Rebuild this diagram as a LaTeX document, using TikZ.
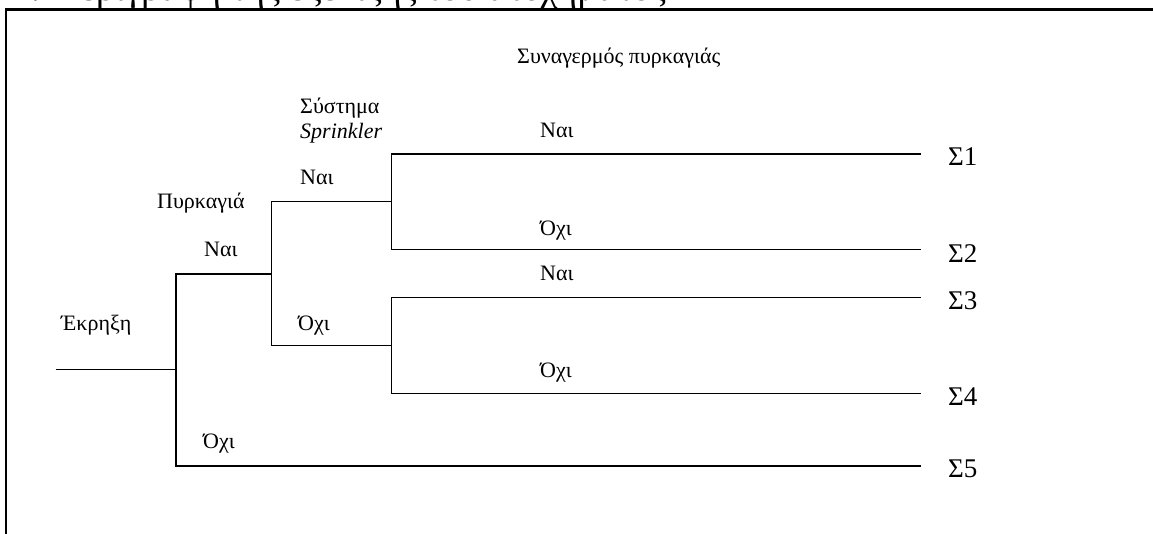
\documentclass[tikz,border=0pt]{standalone}
\usepackage{fontspec}
\setmainfont{Liberation Serif}
\begin{document}
\begin{tikzpicture}[x=1pt,y=-1pt,
  branch/.style={line width=1.5pt, line join=miter},
  frame/.style={line width=2.2pt},
  lbl/.style={anchor=base west, inner sep=0pt, font=\fontsize{22}{26}\selectfont},
  sig/.style={anchor=base west, inner sep=0pt, font=\fontsize{27}{32}\selectfont},
  headf/.style={anchor=base west, inner sep=0pt, font=\fontsize{37.5}{40}\selectfont}]
\useasboundingbox (0,0) rectangle (1153,533);
\begin{scope}
\clip (0,0) rectangle (1153,533);
\draw[frame] (6,600) -- (6,9.5) -- (1200,9.5);
\node[headf] (hnum) at (12,0.6) {4.};
\node[headf] (htxt) at (53,0.6) {Περιγραφή της εξέλιξης του ατυχήματος};
\end{scope}
% junction coordinates
\coordinate (r0) at (55.5,369.7);
\coordinate (f) at (176,369.7);
\coordinate (fT) at (176,274);
\coordinate (fB) at (176,466);
\coordinate (s) at (271.7,274);
\coordinate (sT) at (271.7,201.7);
\coordinate (sB) at (271.7,345.7);
\coordinate (a1) at (391.7,201.7);
\coordinate (a1T) at (391.7,154);
\coordinate (a1B) at (391.7,249.3);
\coordinate (a2) at (391.7,345.7);
\coordinate (a2T) at (391.7,297.7);
\coordinate (a2B) at (391.7,393.3);
\coordinate (e1) at (920.7,154);
\coordinate (e2) at (920.7,249.3);
\coordinate (e3) at (920.7,297.7);
\coordinate (e4) at (920.7,393.3);
\coordinate (e5) at (920.7,466);
% tree
\draw[branch] (r0) -- (f);
\draw[branch] (s) -- (fT) -- (fB) -- (e5);
\draw[branch] (a1) -- (sT) -- (sB) -- (a2);
\draw[branch] (e1) -- (a1T) -- (a1B) -- (e2);
\draw[branch] (e3) -- (a2T) -- (a2B) -- (e4);
% headings
\node[lbl] (alarm) at (517,63) {Συναγερμός πυρκαγιάς};
\node[lbl] (sys) at (300,113) {Σύστημα};
\node[lbl] (spr) at (300,138) {\textit{Sprinkler}};
\node[lbl] (fire) at (157,208) {Πυρκαγιά};
\node[lbl] (expl) at (61,330) {Έκρηξη};
% branch labels
\node[lbl] (syes) at (300,184) {Ναι};
\node[lbl] (fyes) at (204,256) {Ναι};
\node[lbl] (sno) at (298,330) {Όχι};
\node[lbl] (fno) at (203,448) {Όχι};
\node[lbl] (ay1) at (540,137) {Ναι};
\node[lbl] (an1) at (540,235) {Όχι};
\node[lbl] (ay2) at (540,280) {Ναι};
\node[lbl] (an2) at (540,377) {Όχι};
% outcomes
\node[sig] (S1) at (948,165) {Σ1};
\node[sig] (S2) at (948,262) {Σ2};
\node[sig] (S3) at (948,309) {Σ3};
\node[sig] (S4) at (948,405) {Σ4};
\node[sig] (S5) at (948,477) {Σ5};
\end{tikzpicture}
\end{document}
